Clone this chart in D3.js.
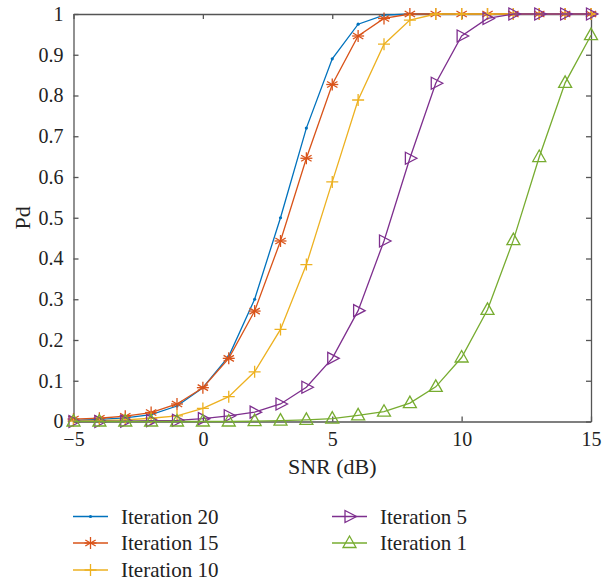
<!DOCTYPE html>
<html>
<head>
	<script src="https://d3js.org/d3.v7.min.js"></script>
</head>
<body style="margin:0">
	<script type="text/javascript">

		var svgWidth = 603;
		var svgHeight = 582;
		var serifFont = "'Liberation Serif'";

		// data
		var snr = [-5,-4,-3,-2,-1,0,1,2,3,4,5,6,7,8,9,10,11,12,13,14,15];
		var iter20 = [0.003,0.005,0.009,0.017,0.038,0.083,0.16,0.30,0.50,0.72,0.89,0.975,0.997,1,1,1,1,1,1,1,1];
		var iter15 = [0.006,0.008,0.013,0.022,0.043,0.083,0.155,0.271,0.443,0.646,0.827,0.946,0.989,1,1,1,1,1,1,1,1];
		var iter10 = [0.001,0.002,0.004,0.008,0.014,0.032,0.061,0.122,0.226,0.385,0.588,0.789,0.926,0.985,1,1,1,1,1,1,1];
		var iter5  = [0,0,0.001,0.002,0.003,0.007,0.014,0.023,0.043,0.084,0.155,0.272,0.443,0.646,0.83,0.946,0.989,1,1,1,1];
		var iter1  = [0,0,0,0,0,0,0,0.001,0.002,0.004,0.007,0.015,0.024,0.045,0.085,0.157,0.274,0.445,0.649,0.831,0.948];

		var xTicks = [-5,0,5,10,15];
		var yTicks = [0,0.1,0.2,0.3,0.4,0.5,0.6,0.7,0.8,0.9,1];

		var seriesList = [
			{name:"Iteration 20", values:iter20, color:"#0072BD", marker:"dot"},
			{name:"Iteration 15", values:iter15, color:"#D95319", marker:"star"},
			{name:"Iteration 10", values:iter10, color:"#EDB120", marker:"plus"},
			{name:"Iteration 5",  values:iter5,  color:"#7E2F8E", marker:"tri-right"},
			{name:"Iteration 1",  values:iter1,  color:"#77AC30", marker:"tri-up"}
		];

		var plotLeft = 73.5, plotRight = 591, plotTop = 14, plotBottom = 421.5;
		var axisColor = "#555";

		var svg = d3.select("body")
			.append("svg")
			.attr("width", svgWidth)
			.attr("height", svgHeight);

		var x = d3.scaleLinear().domain([-5,15]).range([plotLeft, plotRight]);
		var y = d3.scaleLinear().domain([0,1]).range([plotBottom, plotTop]);

		// axes (ticks inside, mirrored on top/right)
		var bottomAxis = svg.append("g")
			.attr("transform","translate(0,"+plotBottom+")")
			.call(d3.axisBottom(x).tickValues(xTicks).tickSizeInner(-5).tickSizeOuter(0).tickPadding(10)
				.tickFormat(function(d){ return d < 0 ? "\u2212" + Math.abs(d) : d; }));
		var leftAxis = svg.append("g")
			.attr("transform","translate("+plotLeft+",0)")
			.call(d3.axisLeft(y).tickValues(yTicks).tickSizeInner(-5).tickSizeOuter(0).tickPadding(10)
				.tickFormat(function(d){ return d === 0 || d === 1 ? d : d3.format(".1f")(d); }));
		var topAxis = svg.append("g")
			.attr("transform","translate(0,"+plotTop+")")
			.call(d3.axisTop(x).tickValues(xTicks).tickSizeInner(-5).tickSizeOuter(0).tickFormat(""));
		var rightAxis = svg.append("g")
			.attr("transform","translate("+plotRight+",0)")
			.call(d3.axisRight(y).tickValues(yTicks).tickSizeInner(-5).tickSizeOuter(0).tickFormat(""));

		[bottomAxis, leftAxis, topAxis, rightAxis].forEach(function(g){
			g.attr("font-family", null).attr("font-size", null);
			g.select(".domain").attr("stroke", axisColor).attr("stroke-width", 1.3);
			g.selectAll(".tick line").attr("stroke", axisColor).attr("stroke-width", 1.3);
			g.selectAll("text")
				.style("font-family", serifFont)
				.style("font-size", "20px")
				.attr("fill", "#222");
		});

		// axis labels
		svg.append("text")
			.attr("x", x(5)).attr("y", 474)
			.attr("text-anchor","middle")
			.style("font-family", serifFont)
			.style("font-size","22px")
			.attr("fill","#222")
			.text("SNR (dB)");
		svg.append("text")
			.attr("transform","translate(30,"+y(0.5)+") rotate(-90)")
			.attr("text-anchor","middle")
			.style("font-family", serifFont)
			.style("font-size","22px")
			.attr("fill","#222")
			.text("Pd");

		function drawMarker(g, type, color) {
			var s = 6;
			if (type === "dot") {
				g.append("circle").attr("r",1.6).attr("fill",color);
			} else if (type === "star") {
				[0,60,120].forEach(function(a){
					var r = a*Math.PI/180;
					g.append("line").attr("x1",-s*Math.sin(r)).attr("y1",-s*Math.cos(r))
						.attr("x2",s*Math.sin(r)).attr("y2",s*Math.cos(r))
						.attr("stroke",color).attr("stroke-width",1.3);
				});
				g.append("line").attr("x1",-s).attr("x2",s).attr("y1",0).attr("y2",0)
					.attr("stroke",color).attr("stroke-width",1.3);
			} else if (type === "plus") {
				g.append("path").attr("d","M"+(-s)+",0H"+s+"M0,"+(-s)+"V"+s)
					.attr("stroke",color).attr("stroke-width",1.3).attr("fill","none");
			} else if (type === "tri-right") {
				g.append("path").attr("d","M-4.5,-6L7,0L-4.5,6Z")
					.attr("stroke",color).attr("stroke-width",1.3).attr("fill","none");
			} else if (type === "tri-up") {
				g.append("path").attr("d","M0,-7L6.5,4.5L-6.5,4.5Z")
					.attr("stroke",color).attr("stroke-width",1.3).attr("fill","none");
			}
		}

		var line = d3.line()
			.x(function(d){ return x(d[0]); })
			.y(function(d){ return y(d[1]); });

		seriesList.forEach(function(s){
			var pts = snr.map(function(v,i){ return [v, s.values[i]]; });
			var g = svg.append("g");
			g.append("path")
				.datum(pts)
				.attr("d", line)
				.attr("fill","none")
				.attr("stroke", s.color)
				.attr("stroke-width", 1.3);
			g.selectAll("g.mk")
				.data(pts)
				.enter()
				.append("g")
				.attr("class","mk")
				.attr("transform", function(d){ return "translate("+x(d[0])+","+y(d[1])+")"; })
				.each(function(){ drawMarker(d3.select(this), s.marker, s.color); });
		});

		// legend, two columns
		var legendRows = [516.5, 543, 570];
		var legendCols = [73, 332];
		seriesList.forEach(function(s, i){
			var col = i < 3 ? 0 : 1;
			var row = i < 3 ? i : i - 3;
			var lg = svg.append("g")
				.attr("transform","translate("+legendCols[col]+","+legendRows[row]+")");
			lg.append("line").attr("x1",0).attr("x2",35).attr("y1",0).attr("y2",0)
				.attr("stroke", s.color).attr("stroke-width",1.3);
			var mg = lg.append("g").attr("transform","translate(17.5,0)");
			drawMarker(mg, s.marker, s.color);
			lg.append("text")
				.attr("x", 48).attr("y", 0).attr("dy","0.35em")
				.style("font-family", serifFont)
				.style("font-size","21px")
				.attr("fill","#222")
				.text(s.name);
		});

	</script>
</body>
</html>
